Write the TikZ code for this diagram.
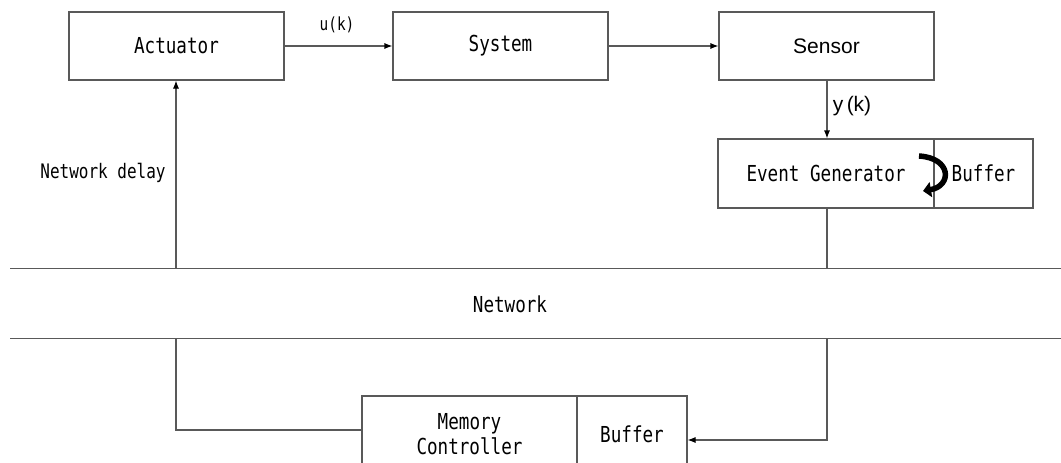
\documentclass[tikz,border=0pt]{standalone}
\usepackage{fontspec}
\usetikzlibrary{arrows.meta}
\newfontfamily\monof[FakeStretch=0.8]{DejaVu Sans Mono}
\newfontfamily\propf{Liberation Sans}
\definecolor{linegray}{gray}{0.35}
\tikzset{
  blockbox/.style={draw=linegray, line width=1.1pt, inner sep=0pt, fill=white},
  maintext/.style={font=\monof\fontsize{22}{26}\selectfont, align=center},
  conn/.style={draw=linegray, line width=1.1pt},
  arr/.style={conn, -{Latex[length=8pt,width=6pt,color=black]}},
  netline/.style={draw=linegray, line width=1.7pt},
}
\begin{document}
\begin{tikzpicture}[x=1pt,y=-1pt]
\useasboundingbox (0,0) rectangle (1061,463);
\clip (0,0) rectangle (1061,463);
% top row
\node[blockbox, maintext, minimum width=215pt, minimum height=68pt] (act) at (176.5,46) {Actuator};
\node[blockbox, maintext, minimum width=215pt, minimum height=68pt] (sys) at (500.5,46) {System};
\node[blockbox, font=\propf\fontsize{21}{24}\selectfont, minimum width=215pt, minimum height=68pt] (sen) at (826.5,46) {Sensor};
% event generator + buffer
\node[blockbox, maintext, minimum width=216pt, minimum height=69pt] (eg) at (826,173.5) {Event Generator};
\node[blockbox, maintext, minimum width=99pt, minimum height=69pt] (ebuf) at (983.5,173.5) {Buffer};
% memory controller + buffer
\node[blockbox, maintext, minimum width=215pt, minimum height=76pt, font=\monof\fontsize{22}{25}\selectfont] (mem) at (469.5,434) {Memory\\Controller};
\node[blockbox, maintext, minimum width=110pt, minimum height=76pt] (mbuf) at (632,434) {Buffer};
% network lines
\coordinate (n1l) at (10,268.5);
\coordinate (n1r) at (1061,268.5);
\coordinate (n2l) at (10,338.5);
\coordinate (n2r) at (1061,338.5);
\draw[netline] (n1l) -- (n1r);
\draw[netline] (n2l) -- (n2r);
\node[maintext] (net) at (510,304) {Network};
% network junction coordinates
\coordinate (jact) at (176,268.5);
\coordinate (jeg) at (827,268.5);
\coordinate (jmem) at (176,338.5);
\coordinate (jbuf) at (827,338.5);
% connectors
\draw[arr] (act.east) -- (sys.west);
\draw[arr] (sys.east) -- (sen.west);
\draw[arr] (sen.south -| jeg) -- (jeg |- eg.north);
\draw[conn] (jeg |- eg.south) -- (jeg);
\draw[arr] (jact) -- (jact |- act.south);
\draw[conn] (jmem) -- (176,430) -- (mem.west |- 0,430);
\draw[arr] (jbuf) -- (827,440) -- (mbuf.east |- 0,440);
% labels
\node[font=\monof\fontsize{18}{22}\selectfont] (uk) at (337,25) {u(k)};
\node[font=\propf\fontsize{21}{24}\selectfont] (yk) at (852,106) {y\,(k)};
\node[font=\monof\fontsize{20}{24}\selectfont] (nd) at (103,173) {Network delay};
% curved arrow between event generator and buffer
\coordinate (cs) at (919,156);
\coordinate (ce) at (923,191);
\draw[black, line width=5.5pt, -{Triangle[length=8pt,width=15pt]}] (cs) .. controls (952,158) and (952,186) .. (ce);
\end{tikzpicture}
\end{document}
